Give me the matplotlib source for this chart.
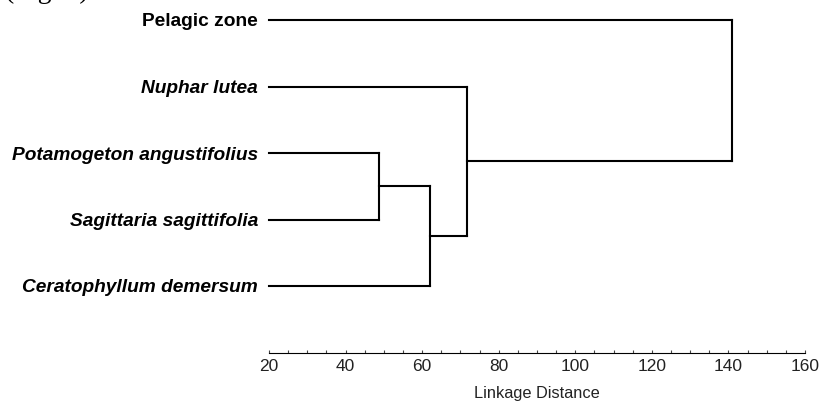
#!/usr/bin/env python3
# -*- coding: utf-8 -*-

import matplotlib
matplotlib.use("Agg")
import matplotlib.pyplot as plt
from matplotlib.ticker import MultipleLocator


LEAVES = [
    "Pelagic zone",
    "Nuphar lutea",
    "Potamogeton angustifolius",
    "Sagittaria sagittifolia",
    "Ceratophyllum demersum",
]
LEAF_ITALIC = [False, True, True, True, True]

# (left cluster, right cluster, linkage distance); new clusters are numbered from 5
MERGE_LEFT = [2, 4, 1, 0]
MERGE_RIGHT = [3, 5, 6, 7]
MERGE_DIST = [48.7, 62.0, 71.7, 140.9]

X_MIN, X_MAX = 20, 160

W, H = 820, 403


def draw_dendrogram(ax):
    ypos = {i: float(i) for i in range(len(LEAVES))}
    xpos = {i: X_MIN for i in range(len(LEAVES))}
    kw = dict(color="black", linewidth=1.5, solid_capstyle="projecting", clip_on=False)
    for k, (a, b, d) in enumerate(zip(MERGE_LEFT, MERGE_RIGHT, MERGE_DIST)):
        ya, yb = ypos[a], ypos[b]
        ax.plot([xpos[a], d], [ya, ya], **kw)
        ax.plot([xpos[b], d], [yb, yb], **kw)
        ax.plot([d, d], [ya, yb], **kw)
        new = len(LEAVES) + k
        ypos[new] = (ya + yb) / 2
        xpos[new] = d


def main():
    fig = plt.figure(figsize=(W / 100, H / 100), dpi=100)
    left, right = 269 / W, 805 / W
    top, bottom = 1 - 20 / H, 1 - 352.5 / H
    ax = fig.add_axes([left, bottom, right - left, top - bottom])

    draw_dendrogram(ax)

    ax.set_xlim(X_MIN, X_MAX)
    ax.set_ylim(len(LEAVES), 0)
    for s in ("left", "top", "right"):
        ax.spines[s].set_visible(False)
    ax.spines["bottom"].set_linewidth(0.8)

    ax.xaxis.set_major_locator(MultipleLocator(20))
    ax.xaxis.set_minor_locator(MultipleLocator(5))
    ax.tick_params(axis="x", which="both", direction="in", length=2.5, width=0.8,
                   color="#444444", pad=5, labelsize=12.5, labelcolor="#222222")
    for t in ax.get_xticklabels():
        t.set_family("Liberation Sans")
    ax.set_xlabel("Linkage Distance", fontsize=11.8, family="Liberation Sans",
                  color="#222222", labelpad=8)

    ax.set_yticks(range(len(LEAVES)))
    ax.set_yticklabels(LEAVES)
    ax.tick_params(axis="y", length=0, pad=8)
    for t, it in zip(ax.get_yticklabels(), LEAF_ITALIC):
        t.set_family("Liberation Sans")
        t.set_fontsize(13.8)
        t.set_fontweight("bold")
        t.set_fontstyle("italic" if it else "normal")

    fig.text(5 / W, 1.0 + 2 / H, "(Fig. 2)", family="Liberation Serif", fontsize=20,
             ha="left", va="baseline")

    fig.savefig("out.png", dpi=100)
    plt.close(fig)


if __name__ == "__main__":
    main()
